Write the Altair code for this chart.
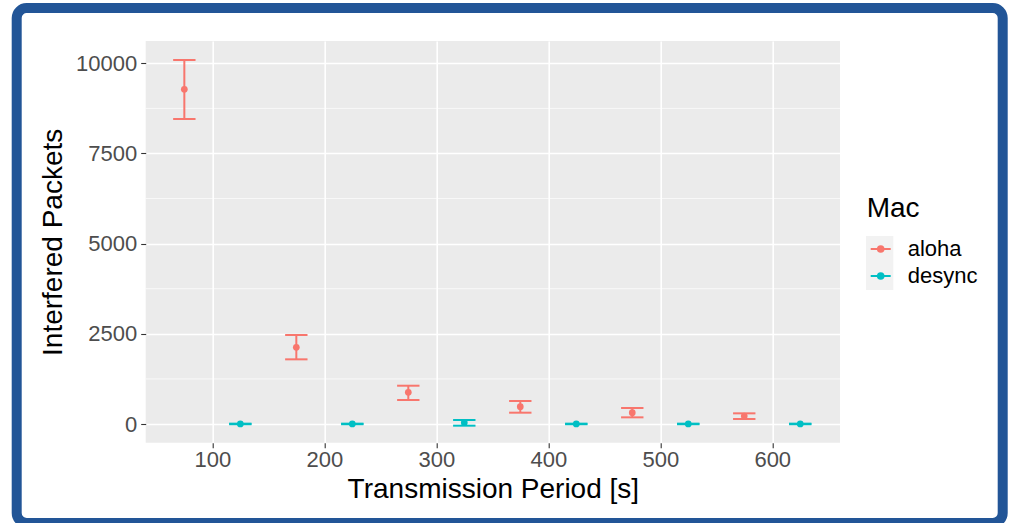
import altair as alt
import pandas as pd

# ---- data ----
macs = ["aloha", "desync"]
aloha_period = [75, 175, 275, 375, 475, 575]
aloha_mean = [9280, 2126, 878, 480, 314, 222]
aloha_low = [8456, 1793, 665, 314, 185, 139]
aloha_high = [10092, 2467, 1062, 638, 444, 296]
desync_period = [125, 225, 325, 425, 525, 625]
desync_mean = [2, 2, 37, 2, 2, 2]
desync_low = [-6, -6, -46, -6, -6, -6]
desync_high = [10, 10, 111, 10, 10, 10]
x_ticks = [100, 200, 300, 400, 500, 600]
y_ticks = [0, 2500, 5000, 7500, 10000]
y_minor = [1250, 3750, 6250, 8750]

rows = []
for p, m, lo, hi in zip(aloha_period, aloha_mean, aloha_low, aloha_high):
    rows.append({"Mac": "aloha", "period": p, "mean": m, "low": lo, "high": hi})
for p, m, lo, hi in zip(desync_period, desync_mean, desync_low, desync_high):
    rows.append({"Mac": "desync", "period": p, "mean": m, "low": lo, "high": hi})
df = pd.DataFrame(rows)
minor_df = pd.DataFrame({"v": y_minor})

FONT = "Liberation Sans"
PW, PH = 694.3, 401.7

xscale = alt.Scale(domain=[40.5, 660.5], nice=False, zero=False)
yscale = alt.Scale(domain=[-518, 10618], nice=False, zero=False)
cscale = alt.Scale(domain=macs, range=["#F8766D", "#00BFC4"])

xaxis = alt.Axis(values=x_ticks, title="Transmission Period [s]", grid=True,
                 gridColor="white", gridWidth=1.6, domain=False,
                 tickColor="#333333", tickSize=5, tickWidth=1.1,
                 labelFontSize=22, labelColor="#4D4D4D", labelFont=FONT,
                 labelPadding=2,
                 titleFont=FONT, titleFontSize=28, titleFontWeight="normal",
                 titleColor="black", titleBaseline="alphabetic", titleY=55)
yaxis = alt.Axis(values=y_ticks, format="d", title="Interfered Packets", grid=True,
                 gridColor="white", gridWidth=1.6, domain=False,
                 tickColor="#333333", tickSize=5, tickWidth=1.1,
                 labelFontSize=22, labelColor="#4D4D4D", labelFont=FONT,
                 labelPadding=4,
                 titleFont=FONT, titleFontSize=28, titleFontWeight="normal",
                 titleColor="black", titleBaseline="alphabetic", titleX=-84)

base = alt.Chart(df)

minor = alt.Chart(minor_df).mark_rule(color="white", strokeWidth=0.7).encode(
    y=alt.Y("v:Q", scale=yscale, axis=yaxis)
)

sym_path = ("M-1,0L1,0"
            "M-0.28,0A0.28,0.28,0,1,0,0.28,0A0.28,0.28,0,1,0,-0.28,0"
            "M-0.12,0A0.12,0.12,0,1,0,0.12,0A0.12,0.12,0,1,0,-0.12,0")

legend = alt.Legend(title="Mac", orient="none", legendX=721, legendY=154,
                    titleFont=FONT, titleFontSize=28, titleFontWeight="normal",
                    titleColor="black", titlePadding=15,
                    labelFont=FONT, labelFontSize=22, labelColor="black",
                    labelOffset=16, symbolType=sym_path, symbolSize=400,
                    symbolStrokeWidth=2, symbolOffset=3, rowPadding=5, padding=0)

vbar = base.mark_rule(strokeWidth=2).encode(
    x=alt.X("period:Q", scale=xscale, axis=xaxis),
    y=alt.Y("low:Q", scale=yscale, axis=yaxis),
    y2="high:Q",
    color=alt.Color("Mac:N", scale=cscale, legend=legend),
)

caps_lo = base.transform_calculate(xl="datum.period - 10", xr="datum.period + 10").mark_rule(strokeWidth=2).encode(
    x=alt.X("xl:Q", scale=xscale),
    x2="xr:Q",
    y=alt.Y("low:Q", scale=yscale),
    color=alt.Color("Mac:N", scale=cscale, legend=None),
)
caps_hi = base.transform_calculate(xl="datum.period - 10", xr="datum.period + 10").mark_rule(strokeWidth=2).encode(
    x=alt.X("xl:Q", scale=xscale),
    x2="xr:Q",
    y=alt.Y("high:Q", scale=yscale),
    color=alt.Color("Mac:N", scale=cscale, legend=None),
)

pts = base.mark_circle(size=45, opacity=1).encode(
    x=alt.X("period:Q", scale=xscale),
    y=alt.Y("mean:Q", scale=yscale),
    color=alt.Color("Mac:N", scale=cscale, legend=None),
)

# legend key background (ggplot grey95 key box), decorative
keybox = alt.Chart(pd.DataFrame({"a": [0]})).mark_rect(fill="#F2F2F2").encode(
    x=alt.value(720.3), x2=alt.value(747.6), y=alt.value(195), y2=alt.value(249)
)

frame = alt.Chart(pd.DataFrame({"a": [0]})).mark_rect(
    fillOpacity=0, stroke="#225597", strokeWidth=10, cornerRadius=10
).encode(
    x=alt.value(-129), x2=alt.value(857), y=alt.value(-33), y2=alt.value(482)
)

chart = alt.layer(minor, vbar, caps_lo, caps_hi, pts, keybox, frame).properties(
    width=PW, height=PH,
    padding={"left": 145.7, "top": 41, "right": 1025 - 145.7 - PW, "bottom": 523 - 41 - PH},
    autosize=alt.AutoSizeParams(type="none"),
    background="white",
).configure_view(fill="#EBEBEB", stroke=None)

chart.save("out.html", embed_options={"renderer": "svg", "actions": False})
